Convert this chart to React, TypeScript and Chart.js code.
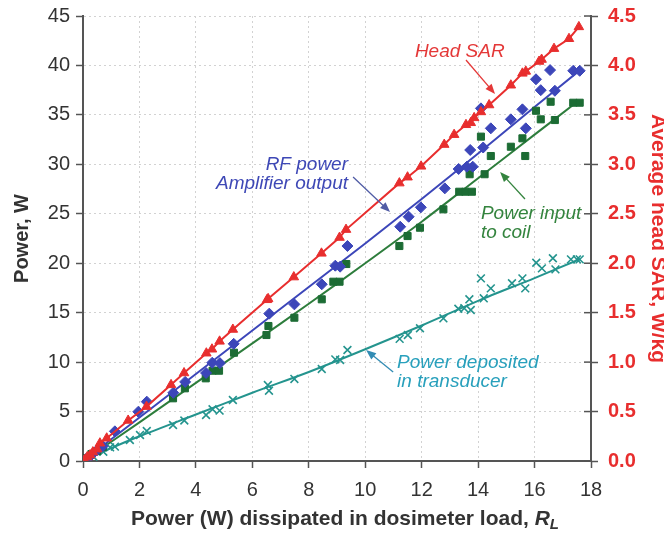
import React, { useEffect, useRef } from "react";
import { Chart, registerables } from "chart.js";

Chart.register(...registerables);

// ---- axis ticks ----
const xTickValues = [0, 2, 4, 6, 8, 10, 12, 14, 16, 18];
const yTickValues = [0, 5, 10, 15, 20, 25, 30, 35, 40, 45];
const sarTickValues = [0, 0.5, 1, 1.5, 2, 2.5, 3, 3.5, 4, 4.5];

// ---- Head SAR (W/kg, right axis) ----
const sarX = [0.05, 0.15, 0.25, 0.35, 0.5, 0.6, 0.84, 1.6, 2.25, 3.12, 3.58, 4.37, 4.57, 4.84, 5.31, 6.52, 6.56, 7.47, 8.45, 9.09, 9.32, 11.21, 11.5, 11.98, 12.8, 13.15, 13.57, 13.74, 13.86, 14.1, 14.39, 15.16, 15.57, 15.69, 16.16, 16.25, 16.69, 17.22, 17.57];
const sarY = [0.01, 0.04, 0.06, 0.09, 0.12, 0.18, 0.23, 0.41, 0.55, 0.77, 0.89, 1.09, 1.13, 1.21, 1.33, 1.63, 1.64, 1.86, 2.1, 2.26, 2.34, 2.81, 2.87, 2.98, 3.2, 3.3, 3.4, 3.42, 3.47, 3.53, 3.6, 3.8, 3.92, 3.94, 4.04, 4.06, 4.17, 4.27, 4.39];

// ---- RF power amplifier output (W) ----
const rfX = [0.1, 0.3, 0.5, 0.7, 1.13, 1.96, 2.26, 3.2, 3.62, 4.36, 4.58, 4.85, 5.34, 6.6, 7.49, 8.46, 8.94, 9.11, 9.37, 11.24, 11.54, 11.97, 12.82, 13.31, 13.6, 13.81, 13.72, 14.18, 14.45, 14.1, 15.16, 15.57, 15.69, 16.05, 16.22, 16.55, 16.72, 17.37, 17.6];
const rfY = [0.2, 0.6, 1.1, 1.5, 3.0, 4.98, 6.0, 6.9, 8.0, 8.9, 9.94, 9.9, 11.85, 14.9, 15.84, 17.87, 19.75, 19.65, 21.74, 23.69, 24.7, 25.65, 27.57, 29.53, 29.76, 29.76, 31.45, 31.7, 33.64, 35.66, 34.55, 35.56, 33.64, 38.6, 37.5, 39.53, 37.44, 39.46, 39.46];
const rfFitX = [0, 2, 4, 6, 8, 10, 12, 14, 16, 17.6];
const rfFitY = [0, 4.4, 8.8, 13.2, 17.6, 22.0, 26.5, 31.1, 35.8, 39.5];

// ---- Power input to coil (W) ----
const coilX = [0.1, 0.3, 0.5, 0.7, 3.19, 3.61, 4.35, 4.59, 4.82, 5.35, 6.5, 6.57, 7.49, 8.46, 8.87, 9.09, 9.33, 11.21, 11.5, 11.94, 12.77, 13.33, 13.55, 13.78, 13.7, 14.23, 14.45, 14.1, 15.16, 15.57, 15.67, 16.05, 16.22, 16.57, 16.72, 17.37, 17.6];
const coilY = [0.3, 0.7, 1.0, 1.4, 6.34, 7.35, 8.36, 9.13, 9.13, 10.95, 12.74, 13.65, 14.49, 16.35, 18.13, 18.13, 19.92, 21.74, 22.75, 23.59, 25.45, 27.23, 27.23, 27.23, 29.0, 29.0, 30.84, 32.8, 31.78, 32.63, 30.84, 35.42, 34.55, 36.33, 34.48, 36.23, 36.23];
const coilFitX = [0, 2, 4, 6, 8, 10, 12, 14, 16, 17.5];
const coilFitY = [0, 3.9, 7.9, 11.9, 15.9, 20.0, 24.2, 28.6, 33.0, 36.3];

// ---- Power deposited in transducer (W) ----
const transX = [0.37, 0.72, 0.96, 1.13, 1.66, 2.02, 2.26, 3.19, 3.59, 4.36, 4.59, 4.84, 5.31, 6.55, 6.59, 7.49, 8.46, 8.94, 9.11, 9.37, 11.22, 11.51, 11.94, 12.77, 13.3, 13.51, 13.74, 13.69, 14.2, 14.1, 14.45, 15.2, 15.57, 15.67, 16.06, 16.26, 16.65, 16.74, 17.29, 17.5, 17.6];
const transY = [0.43, 0.94, 1.38, 1.45, 2.12, 2.63, 3.03, 3.64, 4.1, 4.65, 5.23, 5.09, 6.17, 7.68, 7.11, 8.3, 9.3, 10.28, 10.21, 11.22, 12.35, 12.74, 13.42, 14.43, 15.4, 15.44, 15.27, 16.35, 16.45, 18.47, 17.46, 17.97, 18.47, 17.46, 20.05, 19.48, 20.5, 19.38, 20.39, 20.39, 20.39];
const transFitX = [0, 1, 2, 4, 6, 8, 10, 12, 14, 16, 17.6];
const transFitY = [0, 1.3, 2.5, 4.7, 6.9, 9.0, 11.3, 13.7, 16.2, 18.5, 20.4];

const RED = "rgb(232,46,46)";
const BLUE = "rgb(60,70,185)";
const GREEN = "rgb(28,108,52)";
const GREEN_LINE = "rgb(45,125,60)";
const TEAL = "rgb(36,148,142)";
const AXIS = "#555";
const FONT = "'Liberation Sans', Arial, Helvetica, sans-serif";

const pts = (xs: number[], ys: number[]) => xs.map((x, i) => ({ x, y: ys[i] }));

function drawArrow(ctx: CanvasRenderingContext2D, x1: number, y1: number, x2: number, y2: number, color: string) {
  const ang = Math.atan2(y2 - y1, x2 - x1);
  const len = 10;
  const w = 4;
  const c = Math.cos(ang);
  const s = Math.sin(ang);
  ctx.save();
  ctx.strokeStyle = color;
  ctx.fillStyle = color;
  ctx.lineWidth = 1.3;
  ctx.beginPath();
  ctx.moveTo(x1, y1);
  ctx.lineTo(x2 - c * len * 0.8, y2 - s * len * 0.8);
  ctx.stroke();
  ctx.beginPath();
  ctx.moveTo(x2, y2);
  ctx.lineTo(x2 - c * len + w * s, y2 - s * len - w * c);
  ctx.lineTo(x2 - c * len - w * s, y2 - s * len + w * c);
  ctx.closePath();
  ctx.fill();
  ctx.restore();
}

const overlayPlugin = {
  id: "overlay",
  afterDraw(chart: any) {
    const ctx: CanvasRenderingContext2D = chart.ctx;
    const xs = chart.scales.x;
    const ys = chart.scales.y;
    const ys1 = chart.scales.y1;
    const area = chart.chartArea;
    const px = (v: number) => xs.getPixelForValue(v);
    const py = (v: number) => ys.getPixelForValue(v);

    // inner half of right-axis ticks
    ctx.save();
    ctx.strokeStyle = AXIS;
    ctx.lineWidth = 1.5;
    sarTickValues.forEach((v) => {
      const yy = ys1.getPixelForValue(v);
      ctx.beginPath();
      ctx.moveTo(area.right - 7, yy);
      ctx.lineTo(area.right, yy);
      ctx.stroke();
    });
    ctx.restore();

    // annotations
    const label = (lines: string[], x: number, y: number, align: CanvasTextAlign, color: string) => {
      ctx.save();
      ctx.font = `italic 19px ${FONT}`;
      ctx.fillStyle = color;
      ctx.textAlign = align;
      ctx.textBaseline = "middle";
      lines.forEach((t, i) => ctx.fillText(t, px(x), py(y) + i * 19));
      ctx.restore();
    };
    label(["Head SAR"], 11.76, 41.4, "left", "rgb(228,56,56)");
    drawArrow(ctx, px(13.57), py(40.55), px(14.6), py(37.11), "rgb(228,56,56)");
    label(["RF power", "Amplifier output"], 9.39, 29.93, "right", "rgb(62,72,182)");
    drawArrow(ctx, px(9.57), py(28.72), px(10.88), py(25.18), "rgb(80,92,165)");
    label(["Power input", "to coil"], 14.1, 24.98, "left", "rgb(52,132,62)");
    drawArrow(ctx, px(15.66), py(26.49), px(14.78), py(29.22), "rgb(52,132,62)");
    label(["Power deposited", "in transducer"], 11.13, 9.91, "left", "rgb(40,160,188)");
    drawArrow(ctx, px(10.99), py(9.0), px(10.03), py(11.22), "rgb(50,140,180)");

    // x axis title with italic R and subscript L
    ctx.save();
    ctx.fillStyle = "#333";
    ctx.textBaseline = "alphabetic";
    const main = "Power (W) dissipated in dosimeter load, ";
    const fMain = `bold 21px ${FONT}`;
    const fR = `italic bold 21px ${FONT}`;
    const fL = `italic bold 15px ${FONT}`;
    ctx.font = fMain;
    const wMain = ctx.measureText(main).width;
    ctx.font = fR;
    const wR = ctx.measureText("R").width;
    ctx.font = fL;
    const wL = ctx.measureText("L").width;
    const total = wMain + wR + wL;
    const cx = (area.left + area.right) / 2 + 8;
    const base = area.bottom + 64;
    let x0 = cx - total / 2;
    ctx.textAlign = "left";
    ctx.font = fMain;
    ctx.fillText(main, x0, base);
    x0 += wMain;
    ctx.font = fR;
    ctx.fillText("R", x0, base);
    x0 += wR;
    ctx.font = fL;
    ctx.fillText("L", x0, base + 4);
    ctx.restore();
  },
};

export default function App() {
  const ref = useRef<HTMLCanvasElement | null>(null);

  useEffect(() => {
    if (!ref.current) return;
    const chart = new Chart(ref.current, {
      type: "scatter",
      data: {
        datasets: [
          {
            label: "Head SAR",
            data: pts(sarX, sarY),
            yAxisID: "y1",
            showLine: true,
            borderColor: RED,
            backgroundColor: RED,
            borderWidth: 2,
            pointStyle: "triangle",
            pointRadius: 5.5,
            pointBorderWidth: 1,
            tension: 0,
          },
          {
            label: "RF power",
            data: pts(rfX, rfY),
            yAxisID: "y",
            showLine: false,
            borderColor: BLUE,
            backgroundColor: BLUE,
            pointStyle: "rectRot",
            pointRadius: 5.5,
            pointBorderWidth: 1,
          },
          {
            label: "Power input to coil",
            data: pts(coilX, coilY),
            yAxisID: "y",
            showLine: false,
            borderColor: GREEN,
            backgroundColor: GREEN,
            pointStyle: "rect",
            pointRadius: 5,
            pointBorderWidth: 1,
          },
          {
            label: "Power deposited in transducer",
            data: pts(transX, transY),
            yAxisID: "y",
            showLine: false,
            borderColor: TEAL,
            backgroundColor: TEAL,
            pointStyle: "crossRot",
            pointRadius: 5.5,
            pointBorderWidth: 1.6,
          },
          {
            label: "RF fit",
            data: pts(rfFitX, rfFitY),
            yAxisID: "y",
            showLine: true,
            borderColor: BLUE,
            borderWidth: 2,
            pointRadius: 0,
            tension: 0.3,
          },
          {
            label: "Coil fit",
            data: pts(coilFitX, coilFitY),
            yAxisID: "y",
            showLine: true,
            borderColor: GREEN_LINE,
            borderWidth: 2,
            pointRadius: 0,
            tension: 0.3,
          },
          {
            label: "Transducer fit",
            data: pts(transFitX, transFitY),
            yAxisID: "y",
            showLine: true,
            borderColor: TEAL,
            borderWidth: 2,
            pointRadius: 0,
            tension: 0.3,
          },
        ],
      },
      options: {
        animation: false,
        responsive: true,
        maintainAspectRatio: false,
        layout: { padding: { top: 8, left: 0, right: 0, bottom: 0 } },
        plugins: { legend: { display: false }, tooltip: { enabled: false } },
        scales: {
          x: {
            type: "linear",
            position: "bottom",
            min: 0,
            max: 18,
            afterBuildTicks: (s: any) => {
              s.ticks = xTickValues.map((v) => ({ value: v }));
            },
            afterFit: (s: any) => {
              s.height = 76;
              s.paddingLeft = 0;
              s.paddingRight = 0;
            },
            ticks: { font: { family: FONT, size: 20 }, color: "#333", padding: 10, maxRotation: 0 },
            grid: { color: "#d2d2d2", lineWidth: 1, tickLength: 7, tickColor: AXIS, tickWidth: 1.5 },
            border: { color: AXIS, width: 2, dash: [2, 3] },
          },
          y: {
            type: "linear",
            position: "left",
            min: 0,
            max: 45,
            afterBuildTicks: (s: any) => {
              s.ticks = yTickValues.map((v) => ({ value: v }));
            },
            afterFit: (s: any) => {
              s.width = 75;
              s.paddingTop = 0;
              s.paddingBottom = 0;
            },
            ticks: { font: { family: FONT, size: 20 }, color: "#333", padding: 6 },
            grid: { color: "#d2d2d2", lineWidth: 1, tickLength: 7, tickColor: AXIS, tickWidth: 1.5 },
            border: { color: AXIS, width: 2, dash: [2, 3] },
            title: {
              display: true,
              text: "Power, W",
              color: "#333",
              font: { family: FONT, size: 20, weight: "bold" },
              padding: { top: 2, bottom: 0 },
            },
          },
          y1: {
            type: "linear",
            position: "right",
            min: 0,
            max: 4.5,
            afterBuildTicks: (s: any) => {
              s.ticks = sarTickValues.map((v) => ({ value: v }));
            },
            afterFit: (s: any) => {
              s.width = 81;
              s.paddingTop = 0;
              s.paddingBottom = 0;
            },
            ticks: {
              font: { family: FONT, size: 20, weight: "bold" },
              color: RED,
              padding: 10,
              callback: (v: any) => Number(v).toFixed(1),
            },
            grid: { drawOnChartArea: false, tickLength: 7, tickColor: AXIS, tickWidth: 1.5 },
            border: { color: AXIS, width: 2 },
            title: {
              display: true,
              text: "Average head SAR, W/kg",
              color: RED,
              font: { family: FONT, size: 21, weight: "bold" },
              padding: { top: 2, bottom: 0 },
            },
          },
        },
      },
      plugins: [overlayPlugin],
    } as any);
    return () => chart.destroy();
  }, []);

  return (
    <div style={{ width: 664, height: 529, marginBottom: -8, position: "relative" }}>
      <canvas ref={ref} />
    </div>
  );
}
